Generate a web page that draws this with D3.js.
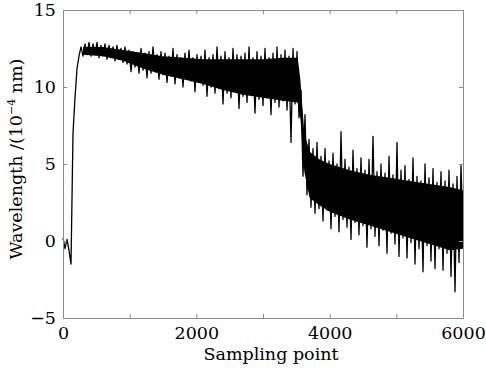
<!DOCTYPE html>
<html>
<head>
<meta charset="utf-8">
<script src="https://cdn.jsdelivr.net/npm/d3@7"></script>
<style>
  body { margin: 0; background: #fff; }
  svg text { font-family: "DejaVu Serif", "Liberation Serif", serif; fill: #000; }
</style>
</head>
<body>
<svg></svg>
<script>
// sampling interval between the values below
var sampleStep = 30;

// wavelength (10^-4 nm), one value every 30 sampling points
var wavelength = [
  0.2, -0.5, 0.1, -0.6, -1.5, 7.0, 9.3, 11.2, 12.0, 12.6,
  12.0, 12.8, 12.1, 12.9, 12.0, 12.8, 12.1, 12.9, 11.9, 12.7,
  12.0, 12.8, 11.8, 12.7, 11.9, 12.6, 11.7, 12.7, 11.8, 12.5,
  11.6, 12.6, 11.5, 12.4, 11.0, 12.3, 11.3, 12.2, 10.9, 12.5,
  11.1, 12.2, 10.6, 12.3, 10.9, 12.6, 11.0, 12.1, 10.5, 12.3,
  10.8, 12.2, 10.3, 12.0, 10.7, 12.5, 10.2, 12.1, 10.6, 11.9,
  10.0, 12.2, 10.5, 12.4, 10.4, 11.9, 9.7, 12.1, 10.3, 12.0,
  10.1, 12.4, 9.4, 11.9, 10.0, 12.1, 9.6, 12.6, 9.9, 12.0,
  8.9, 12.3, 9.6, 11.9, 9.3, 12.5, 9.7, 12.1, 8.6, 12.0,
  9.4, 12.2, 9.0, 12.6, 9.5, 11.9, 8.3, 12.3, 9.2, 12.0,
  8.8, 12.5, 9.3, 11.9, 8.2, 12.2, 9.0, 12.6, 8.7, 12.1,
  9.1, 12.4, 8.5, 12.0, 6.4, 12.5, 8.9, 12.3, 8.0, 9.8,
  4.2, 8.2, 3.0, 6.6, 2.2, 6.0, 1.8, 6.4, 2.1, 5.5,
  1.3, 6.0, 2.0, 5.2, 0.8, 5.7, 1.6, 5.0, 0.6, 7.1,
  1.4, 5.3, 0.9, 4.8, 0.1, 5.9, 1.2, 4.7, 0.4, 5.4,
  1.0, 4.6, -0.4, 5.3, 0.8, 6.8, 0.3, 4.5, -0.3, 5.0,
  0.7, 4.4, -0.8, 5.5, 0.5, 4.3, -0.2, 6.4, -1.0, 4.6,
  0.2, 4.9, -1.1, 4.0, -0.1, 5.4, -1.5, 4.2, -0.5, 3.9,
  -2.0, 5.0, -0.3, 4.1, -1.3, 4.7, -1.8, 3.8, -0.5, 4.5,
  -1.9, 3.9, -0.8, 4.6, -2.3, 3.7, -3.3, 4.2, -1.4, 4.9,
  0.5
];

// the dense core of the trace (where the noise fills solid)
var coreSamples = [300, 600, 900, 1200, 1500, 1800, 2100, 2400, 2700, 3000, 3300, 3520, 3560,
  3620, 3700, 3850, 4000, 4300, 4600, 4900, 5200, 5500, 5800, 6000];
var coreLow = [12.1, 12.0, 11.7, 11.2, 10.8, 10.5, 10.2, 9.8, 9.5, 9.3, 9.1, 9.0, 8.0,
  4.5, 2.8, 2.3, 1.9, 1.4, 1.0, 0.6, 0.2, -0.2, -0.6, -0.5];
var coreHigh = [12.6, 12.6, 12.4, 12.2, 12.0, 11.9, 11.8, 11.8, 11.8, 11.8, 11.9, 11.9, 10.5,
  7.0, 5.8, 5.3, 5.0, 4.6, 4.3, 4.1, 3.9, 3.7, 3.5, 3.3];

var xTicks = [0, 1000, 2000, 3000, 4000, 5000, 6000];
var xTickLabels = ["0", "", "2000", "", "4000", "", "6000"];
var yTicks = [-5, 0, 5, 10, 15];
var yTickLabels = ["\u22125", "0", "5", "10", "15"];

var margin = { top: 10, right: 23, bottom: 55, left: 63 },
  fullWidth = 486,
  fullHeight = 373,
  width = fullWidth - margin.left - margin.right,
  height = fullHeight - margin.top - margin.bottom;

var x = d3.scaleLinear().domain([0, 6000]).range([0, width]);
var y = d3.scaleLinear().domain([-5, 15]).range([height, 0]);

var svg = d3.select("svg")
  .attr("width", fullWidth)
  .attr("height", fullHeight)
  .append("g")
  .attr("transform", "translate(" + margin.left + "," + margin.top + ")");

// solid core of the noisy trace
var core = d3.area()
  .x(function(d, i) { return x(coreSamples[i]); })
  .y0(function(d, i) { return y(coreLow[i]); })
  .y1(function(d, i) { return y(coreHigh[i]); });

svg.append("path")
  .datum(coreSamples)
  .attr("fill", "#000")
  .attr("d", core);

// the trace
var line = d3.line()
  .x(function(d, i) { return x(i * sampleStep); })
  .y(function(d) { return y(d); });

svg.append("path")
  .datum(wavelength)
  .attr("fill", "none")
  .attr("stroke", "#000")
  .attr("stroke-width", 1.3)
  .attr("stroke-linejoin", "round")
  .attr("d", line);

// axes, ticks pointing inward, box on all four sides
function styleAxis(g) {
  g.select(".domain").attr("stroke", "#8c8c8c");
  g.selectAll(".tick line").attr("stroke", "#8c8c8c");
  g.selectAll("text").attr("font-size", "17.5px").attr("font-family", "DejaVu Serif");
}

svg.append("g")
  .attr("transform", "translate(0," + height + ")")
  .call(d3.axisBottom(x).tickValues(xTicks).tickSizeInner(-4).tickSizeOuter(0).tickPadding(9)
    .tickFormat(function(d, i) { return xTickLabels[i]; }))
  .call(styleAxis);

svg.append("g")
  .call(d3.axisTop(x).tickValues(xTicks).tickSizeInner(-4).tickSizeOuter(0).tickFormat(""))
  .call(styleAxis);

svg.append("g")
  .call(d3.axisLeft(y).tickValues(yTicks).tickSizeInner(-4).tickSizeOuter(0).tickPadding(7)
    .tickFormat(function(d, i) { return yTickLabels[i]; }))
  .call(styleAxis);

svg.append("g")
  .attr("transform", "translate(" + width + ",0)")
  .call(d3.axisRight(y).tickValues(yTicks).tickSizeInner(-4).tickSizeOuter(0).tickFormat(""))
  .call(styleAxis);

// axis titles
svg.append("text")
  .attr("x", 208)
  .attr("y", height + 42)
  .attr("font-size", "17.5px")
  .attr("text-anchor", "middle")
  .text("Sampling point");

var yLabel = svg.append("text")
  .attr("transform", "translate(" + (22 - margin.left) + "," + 149 + ") rotate(-90)")
  .attr("font-size", "17.5px")
  .attr("text-anchor", "middle");
yLabel.append("tspan").text("Wavelength /(10");
yLabel.append("tspan").attr("font-size", "11px").attr("dy", "-7").text("\u22124");
yLabel.append("tspan").attr("dy", "7").text(" nm)");
</script>
</body>
</html>
